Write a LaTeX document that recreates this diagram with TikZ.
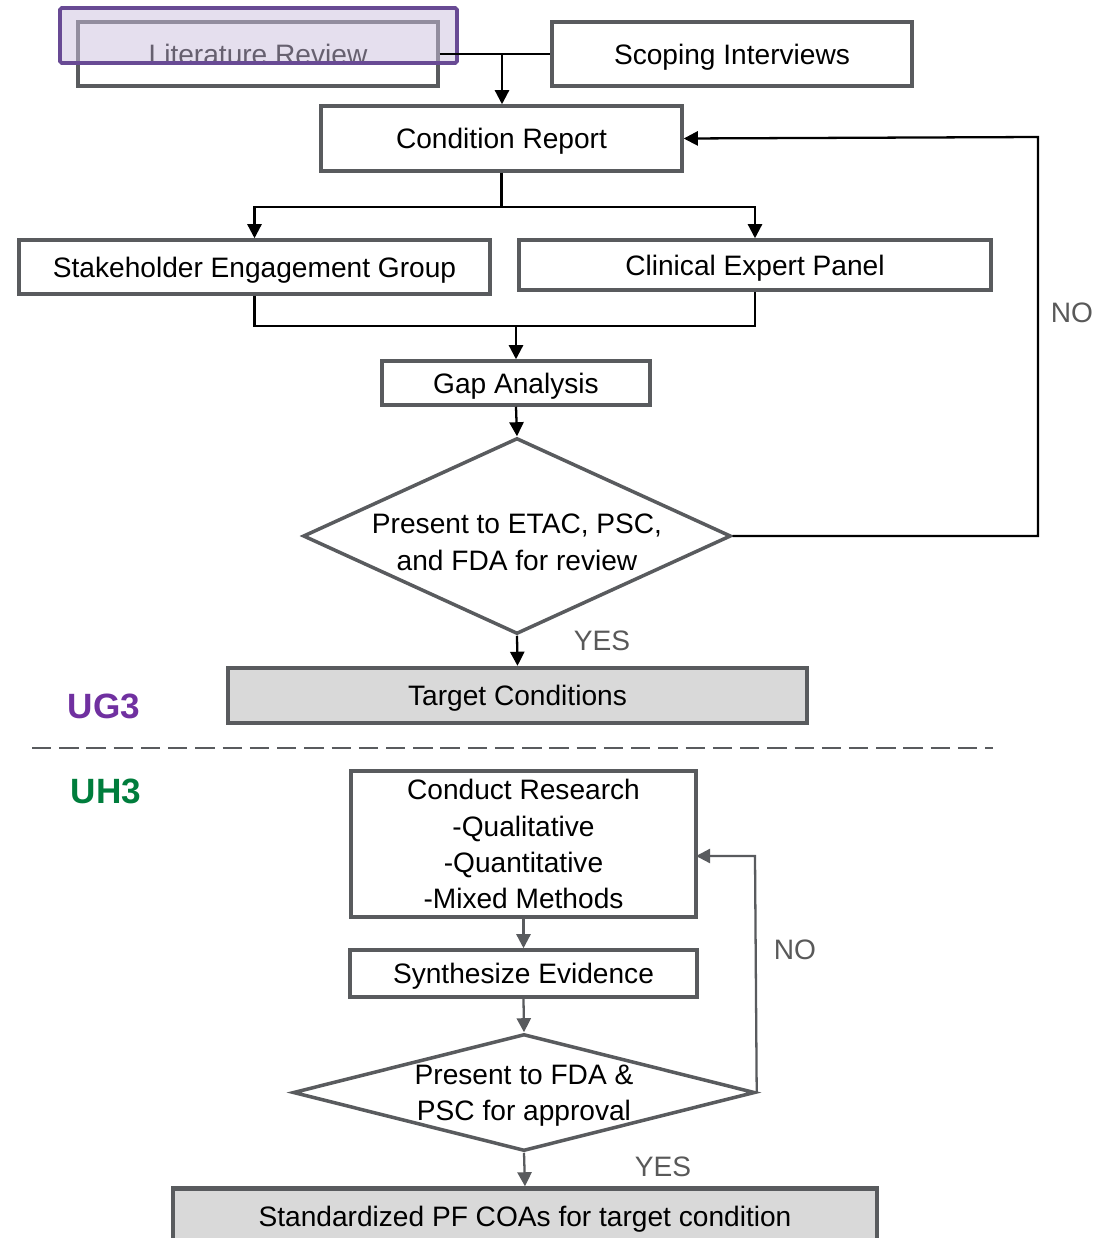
\documentclass[tikz,border=0pt]{standalone}
\usepackage{fontspec}
\setmainfont{Liberation Sans}
\usetikzlibrary{arrows.meta}
\usetikzlibrary{shapes.geometric}

\definecolor{boxgray}{RGB}{89,91,94}
\definecolor{fillgray}{RGB}{217,217,217}
\definecolor{litpurple}{RGB}{104,74,148}
\definecolor{litfill}{RGB}{204,192,222}
\definecolor{ugpurple}{RGB}{112,48,160}
\definecolor{uhgreen}{RGB}{0,125,60}
\definecolor{notegray}{RGB}{89,89,89}

\tikzset{
  box/.style={draw=boxgray, line width=2pt, fill=white, inner sep=0pt,
    font=\fontsize{16}{20.7}\selectfont, align=center, text depth=0pt},
  goalbox/.style={box, fill=fillgray, line width=2.5pt},
  decision/.style={diamond, box},
  flow/.style={line width=1.3pt, -{Triangle[length=8pt,width=8pt]}},
  flowgray/.style={flow, draw=boxgray},
  note/.style={text=notegray, font=\fontsize{16}{19}\selectfont},
  phase/.style={font=\fontsize{20}{24}\selectfont\bfseries},
}

\begin{document}
\begin{tikzpicture}[x=0.02cm, y=-0.02cm]
        \useasboundingbox (0,0) rectangle (1101,1238);

        % UG3 part
        \node[box, minimum width=7.2cm, minimum height=1.28cm] (litrev) at (258,54) {Literature Review};
        \node[box, minimum width=7.2cm, minimum height=1.28cm] (scoping) at (732,54) {Scoping Interviews};
        \node[box, minimum width=7.22cm, minimum height=1.3cm] (condrep) at (501.5,138.5) {Condition Report};
        \node[box, minimum width=9.42cm, minimum height=1.08cm] (seg) at (254.5,267) {Stakeholder Engagement Group};
        \node[box, minimum width=9.44cm, minimum height=1.0cm] (cep) at (755,265) {Clinical Expert Panel};
        \node[box, minimum width=5.36cm, minimum height=0.88cm] (gap) at (516,383) {Gap Analysis};
        \node[decision, aspect=2.18, inner sep=-2.5pt, text height=39pt, minimum width=8.56cm, minimum height=3.92cm] (review) at (517,536) {Present to ETAC, PSC,\\and FDA for review};
        \node[goalbox, minimum width=11.58cm, minimum height=1.1cm] (target) at (517.5,695.5) {Target Conditions};

        % highlight over the first box
        \draw[draw=litpurple, line width=2.2pt, fill=litfill, fill opacity=0.5, rounded corners=1pt] (60,8) rectangle (457,63);

        \coordinate (join1) at (502,54);
        \coordinate (merge1) at (516,326);
        \coordinate (noturn1) at (1038,137);

        \draw[line width=1.3pt] (litrev.east) -- (scoping.west);
        \draw[flow] (join1) -- (join1 |- condrep.north);
        \draw[flow] (condrep.south) -- ++(0,34) -| (seg.north);
        \draw[flow] (condrep.south) -- ++(0,34) -| (cep.north);
        \draw[line width=1.3pt] (seg.south) |- (merge1);
        \draw[line width=1.3pt] (cep.south) |- (merge1);
        \draw[flow] (merge1) -- (gap.north);
        \draw[flow] (gap.south) -- (review.north);
        \draw[flow] (review.east) -| (noturn1) -- (condrep.east);
        \draw[flow] (review.south) -- (target.north);

        \node[note] (no1) at (1072,313) {NO};
        \node[note] (yes1) at (602,641) {YES};
        \node[phase, text=ugpurple] (ug3) at (104,706) {UG3};

        % split between the phases
        \draw[boxgray, line width=1.6pt, dash pattern=on 11pt off 4.5pt] (32,748) -- (993,748);

        % UH3 part
        \node[phase, text=uhgreen] (uh3) at (106,791) {UH3};
        \node[box, minimum width=6.9cm, minimum height=2.92cm] (research) at (523.5,844) {Conduct Research\\-Qualitative\\-Quantitative\\-Mixed Methods};
        \node[box, minimum width=6.94cm, minimum height=0.94cm] (synth) at (523.5,973.5) {Synthesize Evidence};
        \node[decision, aspect=3.95, minimum width=9.24cm, minimum height=2.34cm] (approval) at (524,1092.5) {Present to FDA \&\\PSC for approval};
        \node[goalbox, minimum width=14.08cm, minimum height=1.1cm] (standard) at (525,1216) {Standardized PF COAs for target condition};

        \coordinate (noturn2) at (755,856);
        \coordinate (noin2) at (696,856);

        \draw[flowgray] (research.south) -- (synth.north);
        \draw[flowgray] (synth.south) -- (approval.north);
        \draw[flowgray] (approval.east) -- (noturn2) -- (noin2);
        \draw[flowgray] (approval.south) -- (standard.north);

        \node[note] (no2) at (795,950) {NO};
        \node[note] (yes2) at (663,1167) {YES};
\end{tikzpicture}
\end{document}
